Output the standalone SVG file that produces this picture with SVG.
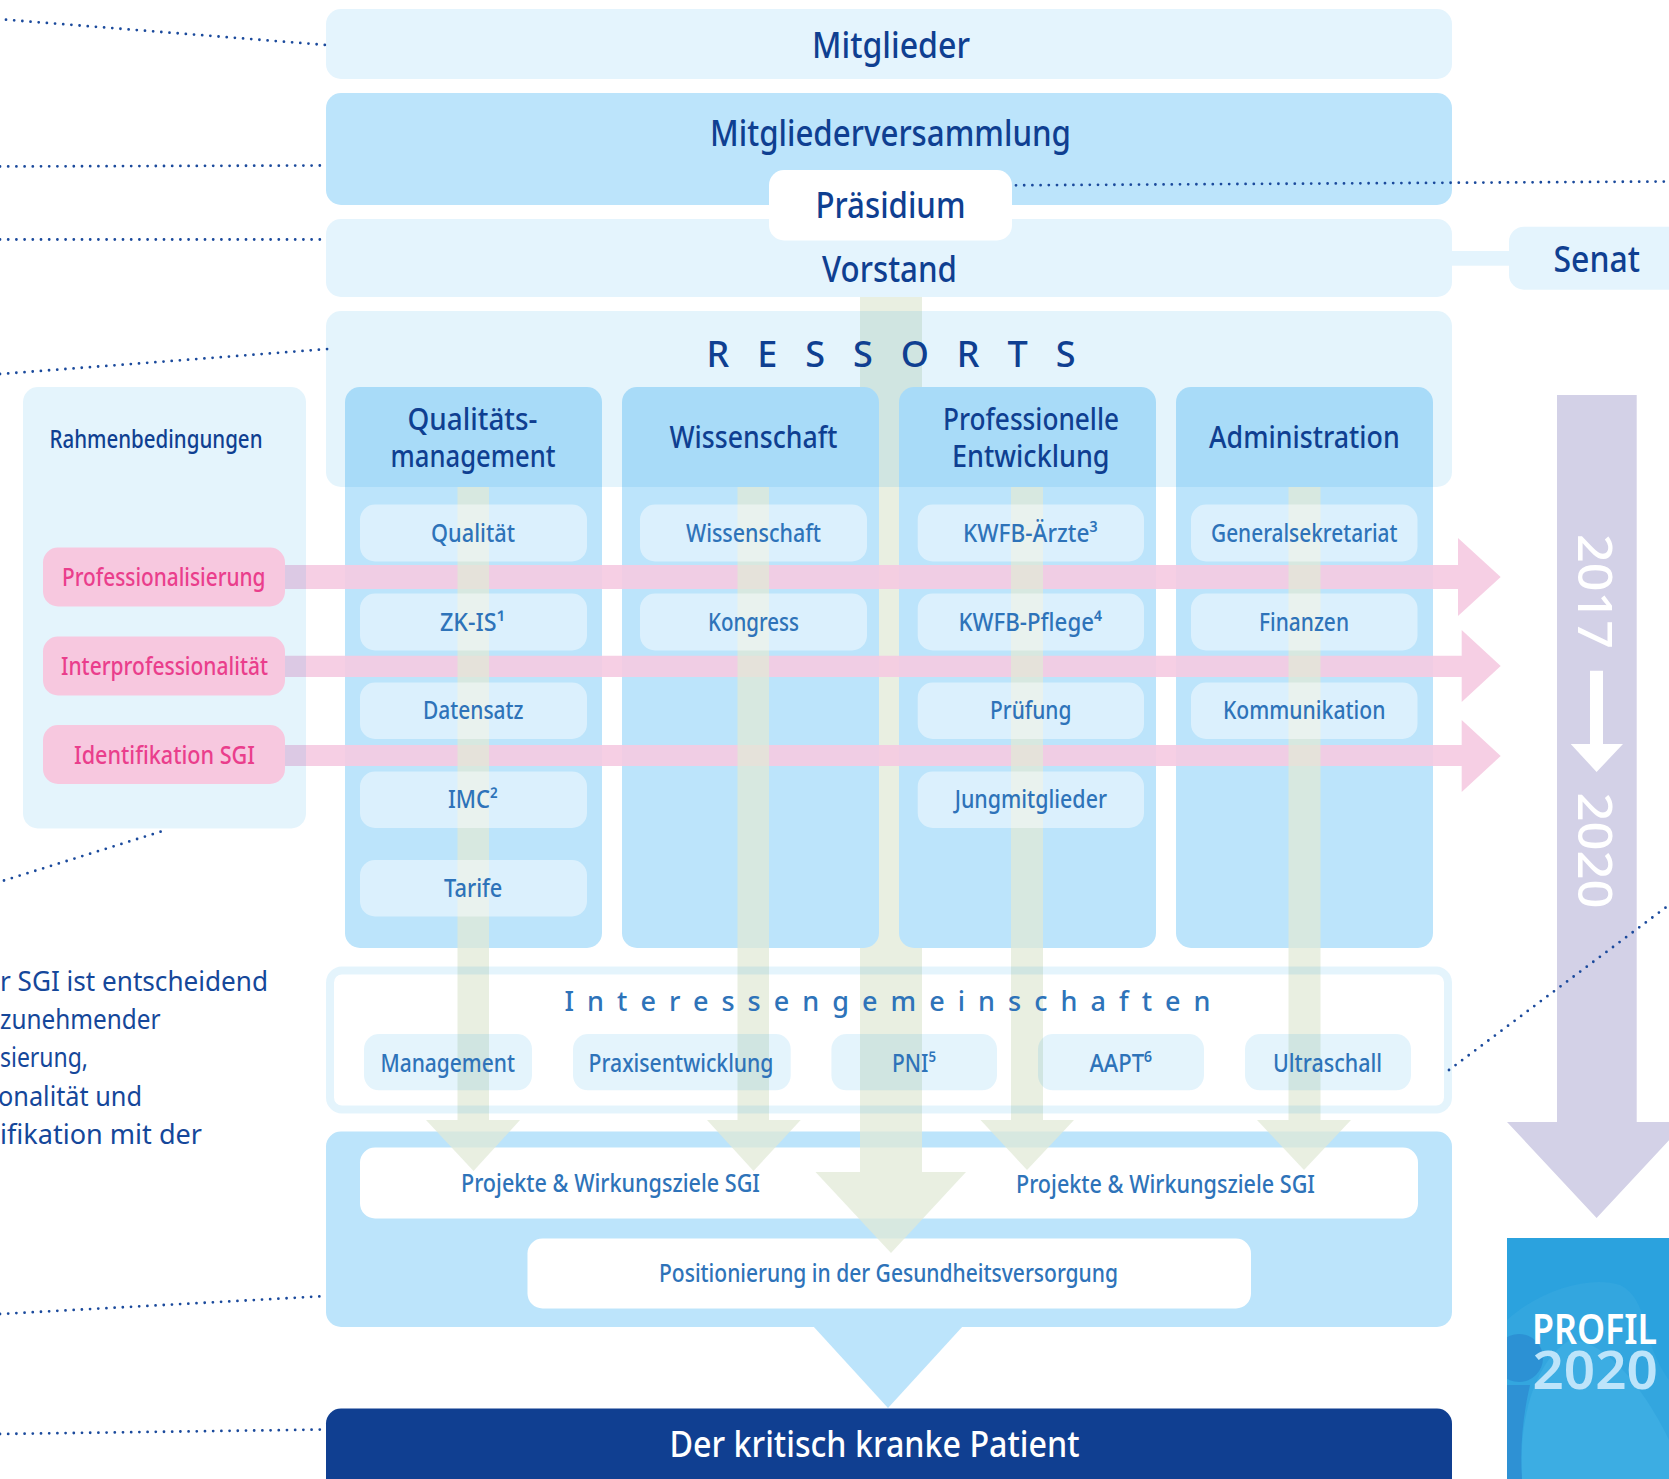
<svg xmlns="http://www.w3.org/2000/svg" width="1669" height="1479" viewBox="0 0 1669 1479">
<style>
text{font-family:"Noto Sans","Open Sans","Liberation Sans",sans-serif}
.pale{fill:#e4f4fd}.sky{fill:#bce4fb}.wh{fill:#fff}
.over{fill:#159ce8;fill-opacity:.115}
.sub{fill:#fff;fill-opacity:.46}
.green{fill:#e1e9d6;fill-opacity:.73}
.pink{fill:#f5cae1;fill-opacity:.9}
.pinkbox{fill:#f7c8df}
.t1{font-size:36px;font-weight:500;fill:#0f3f91}
.t2{font-size:31px;font-weight:500;fill:#0f3f91}
.t3{font-size:24.5px;fill:#2e73b9;font-weight:500}
.t4{font-size:25px;font-weight:500;fill:#0f3f91}
.t5{font-size:25px;fill:#ea3e8c;font-weight:500}
.body{font-size:28px;fill:#15479a}
.dots{fill:none;stroke:#1b4a9c;stroke-width:2.8;stroke-linecap:round;stroke-dasharray:0 8.2}
</style>
<defs><clipPath id="pc"><rect x="1507" y="1238" width="162" height="241"/></clipPath></defs>

<g id="mitglieder"><rect class="pale" x="326" y="9" width="1126" height="70" rx="15"/><text class="t1" x="812" y="58" textLength="158" lengthAdjust="spacingAndGlyphs">Mitglieder</text></g>
<g id="mitgliederversammlung"><rect class="sky" x="326" y="93" width="1126" height="112" rx="15"/><text class="t1" x="710" y="146" textLength="361" lengthAdjust="spacingAndGlyphs">Mitgliederversammlung</text></g>
<g id="vorstand"><rect class="pale" x="326" y="219" width="1126" height="78" rx="15"/><text class="t1" x="822" y="281.700" textLength="135" lengthAdjust="spacingAndGlyphs">Vorstand</text></g>
<g id="praesidium"><rect class="wh" x="769" y="170" width="243" height="70.500" rx="15"/><text class="t1" x="815.500" y="217.700" textLength="150" lengthAdjust="spacingAndGlyphs">Präsidium</text></g>
<g id="senat"><rect class="pale" x="1450" y="251" width="62" height="14.700"/><rect class="pale" x="1509" y="226.700" width="200" height="63" rx="15"/><text class="t1" x="1553.500" y="271.700" textLength="86.500" lengthAdjust="spacingAndGlyphs">Senat</text></g>

<g id="wirkung"><rect class="sky" x="326" y="1131.500" width="1126" height="195.500" rx="15"/><polygon class="sky" points="813,1326 963,1326 888,1408"/>
<rect class="wh" x="360" y="1147.500" width="1058" height="71" rx="15"/><rect class="wh" x="527.500" y="1238.500" width="723.500" height="70" rx="15"/>
<text class="t3" x="461" y="1192" textLength="299" lengthAdjust="spacingAndGlyphs">Projekte &amp; Wirkungsziele SGI</text>
<text class="t3" x="1016" y="1193.300" textLength="299" lengthAdjust="spacingAndGlyphs">Projekte &amp; Wirkungsziele SGI</text>
<text class="t3" x="659" y="1282" textLength="459" lengthAdjust="spacingAndGlyphs">Positionierung in der Gesundheitsversorgung</text></g>
<g id="patient"><rect x="326" y="1408.500" width="1126" height="90" rx="15" fill="#103f91"/><text class="t1" style="fill:#fff" x="669.500" y="1457" textLength="410" lengthAdjust="spacingAndGlyphs">Der kritisch kranke Patient</text></g>

<g id="connector-vorstand-flow"><polygon class="green" points="860,297 922,297 922,1172 966,1172 891,1253 815.500,1172 860,1172"/></g>

<g id="ressorts"><rect class="over" x="326" y="311" width="1126" height="176" rx="15"/><text class="t1" x="706.500" y="367" textLength="369" lengthAdjust="spacing">RESSORTS</text></g>

<g id="spalte-qualitaet"><path class="sky" d="M345 487H602V933a15 15 0 0 1-15 15H360a15 15 0 0 1-15-15Z"/><path fill="#a8dbf8" d="M345 487V402a15 15 0 0 1 15-15H587a15 15 0 0 1 15 15V487Z"/>
<text class="t2" x="407.500" y="430" textLength="130" lengthAdjust="spacingAndGlyphs">Qualitäts-</text><text class="t2" x="390.600" y="466.700" textLength="165" lengthAdjust="spacingAndGlyphs">management</text></g>
<g id="spalte-wissenschaft"><path class="sky" d="M622 487H879V933a15 15 0 0 1-15 15H637a15 15 0 0 1-15-15Z"/><path fill="#a8dbf8" d="M622 487V402a15 15 0 0 1 15-15H864a15 15 0 0 1 15 15V487Z"/>
<text class="t2" x="669.500" y="448" textLength="168" lengthAdjust="spacingAndGlyphs">Wissenschaft</text></g>
<g id="spalte-professionelle"><path class="sky" d="M899 487H1156V933a15 15 0 0 1-15 15H914a15 15 0 0 1-15-15Z"/><path fill="#a8dbf8" d="M899 487V402a15 15 0 0 1 15-15H1141a15 15 0 0 1 15 15V487Z"/>
<text class="t2" x="943" y="430" textLength="176" lengthAdjust="spacingAndGlyphs">Professionelle</text><text class="t2" x="952" y="466.700" textLength="157.600" lengthAdjust="spacingAndGlyphs">Entwicklung</text></g>
<g id="spalte-administration"><path class="sky" d="M1176 487H1433V933a15 15 0 0 1-15 15H1191a15 15 0 0 1-15-15Z"/><path fill="#a8dbf8" d="M1176 487V402a15 15 0 0 1 15-15H1418a15 15 0 0 1 15 15V487Z"/>
<text class="t2" x="1209" y="448" textLength="190.700" lengthAdjust="spacingAndGlyphs">Administration</text></g>

<g id="connectors-querschnitt">
<polygon class="pink" points="285,565 1458,565 1458,538 1500.700,577 1458,616 1458,589 285,589"/>
<polygon class="pink" points="285,655.700 1461.700,655.700 1461.700,630 1500.700,666 1461.700,702 1461.700,677 285,677"/>
<polygon class="pink" points="285,745 1461.700,745 1461.700,720 1500.700,756 1461.700,792 1461.700,766 285,766"/>
</g>

<g id="rahmenbedingungen"><rect class="over" x="23" y="387" width="283" height="441.500" rx="15"/><text class="t4" x="49.500" y="448.400" textLength="213" lengthAdjust="spacingAndGlyphs">Rahmenbedingungen</text></g>
<g id="professionalisierung"><rect class="pinkbox" x="43" y="547.500" width="242" height="59" rx="15"/><text class="t5" x="62" y="585.500" textLength="203.500" lengthAdjust="spacingAndGlyphs">Professionalisierung</text></g>
<g id="interprofessionalitaet"><rect class="pinkbox" x="43" y="636.500" width="242" height="59" rx="15"/><text class="t5" x="61" y="675" textLength="207" lengthAdjust="spacingAndGlyphs">Interprofessionalität</text></g>
<g id="identifikation"><rect class="pinkbox" x="43" y="725" width="242" height="59" rx="15"/><text class="t5" x="74" y="763.500" textLength="181" lengthAdjust="spacingAndGlyphs">Identifikation SGI</text></g>

<g id="connectors-ressorts">
<polygon class="green" points="457.500,487 489,487 489,1120 520,1120 473.500,1171 426,1120 457.500,1120"/>
<polygon class="green" points="737.500,487 769,487 769,1120 800.700,1120 753.500,1171 707,1120 737.500,1120"/>
<polygon class="green" points="1011,487 1043,487 1043,1120 1074,1120 1027,1170 980.500,1120 1011,1120"/>
<polygon class="green" points="1288.500,487 1320.500,487 1320.500,1120 1351,1120 1304,1170 1257,1120 1288.500,1120"/>
</g>

<g id="b-qualitaet"><rect class="sub" x="360" y="504.500" width="227" height="57" rx="15"/><text class="t3" x="431" y="541.500" textLength="84" lengthAdjust="spacingAndGlyphs">Qualität</text></g>
<g id="b-zkis"><rect class="sub" x="360" y="593.500" width="227" height="57" rx="15"/><text class="t3" x="440" y="630.500" textLength="65" lengthAdjust="spacingAndGlyphs">ZK-IS¹</text></g>
<g id="b-datensatz"><rect class="sub" x="360" y="682.500" width="227" height="56.500" rx="15"/><text class="t3" x="423" y="719.300" textLength="100.500" lengthAdjust="spacingAndGlyphs">Datensatz</text></g>
<g id="b-imc"><rect class="sub" x="360" y="771.500" width="227" height="56.500" rx="15"/><text class="t3" x="448" y="808.300" textLength="50" lengthAdjust="spacingAndGlyphs">IMC²</text></g>
<g id="b-tarife"><rect class="sub" x="360" y="860" width="227" height="56.500" rx="15"/><text class="t3" x="444" y="897.300" textLength="58.400" lengthAdjust="spacingAndGlyphs">Tarife</text></g>
<g id="b-wissenschaft"><rect class="sub" x="640" y="504.500" width="227" height="57" rx="15"/><text class="t3" x="686" y="541.500" textLength="135" lengthAdjust="spacingAndGlyphs">Wissenschaft</text></g>
<g id="b-kongress"><rect class="sub" x="640" y="593.500" width="227" height="57" rx="15"/><text class="t3" x="708" y="630.500" textLength="91" lengthAdjust="spacingAndGlyphs">Kongress</text></g>
<g id="b-aerzte"><rect class="sub" x="917.700" y="504.500" width="226.300" height="57" rx="15"/><text class="t3" x="963" y="541.500" textLength="134.500" lengthAdjust="spacingAndGlyphs">KWFB-Ärzte³</text></g>
<g id="b-pflege"><rect class="sub" x="917.700" y="593.500" width="226.300" height="57" rx="15"/><text class="t3" x="958.500" y="630.500" textLength="143.500" lengthAdjust="spacingAndGlyphs">KWFB-Pflege⁴</text></g>
<g id="b-pruefung"><rect class="sub" x="917.700" y="682.500" width="226.300" height="56.500" rx="15"/><text class="t3" x="990" y="719.300" textLength="81.500" lengthAdjust="spacingAndGlyphs">Prüfung</text></g>
<g id="b-jung"><rect class="sub" x="917.700" y="771.500" width="226.300" height="56.500" rx="15"/><text class="t3" x="954.700" y="808.300" textLength="152.300" lengthAdjust="spacingAndGlyphs">Jungmitglieder</text></g>
<g id="b-general"><rect class="sub" x="1191" y="504.500" width="226.500" height="57" rx="15"/><text class="t3" x="1211" y="541.500" textLength="186.500" lengthAdjust="spacingAndGlyphs">Generalsekretariat</text></g>
<g id="b-finanzen"><rect class="sub" x="1191" y="593.500" width="226.500" height="57" rx="15"/><text class="t3" x="1259" y="630.500" textLength="90" lengthAdjust="spacingAndGlyphs">Finanzen</text></g>
<g id="b-kommunikation"><rect class="sub" x="1191" y="682.500" width="226.500" height="56.500" rx="15"/><text class="t3" x="1223" y="719.300" textLength="162.500" lengthAdjust="spacingAndGlyphs">Kommunikation</text></g>

<g id="interessengemeinschaften"><rect x="330" y="970.500" width="1118" height="139" rx="12" fill="none" stroke="#159ce8" stroke-opacity=".115" stroke-width="8"/>
<text style="font-size:27px;fill:#2e73b9;font-weight:500" x="564.500" y="1010.500" textLength="646" lengthAdjust="spacing">Interessengemeinschaften</text></g>
<g id="ig-management"><rect class="over" x="364" y="1034" width="168" height="56.300" rx="15"/><text class="t3" x="380.400" y="1071.500" textLength="134.600" lengthAdjust="spacingAndGlyphs">Management</text></g>
<g id="ig-praxis"><rect class="over" x="573" y="1034" width="217.700" height="56.300" rx="15"/><text class="t3" x="588.600" y="1071.500" textLength="184.900" lengthAdjust="spacingAndGlyphs">Praxisentwicklung</text></g>
<g id="ig-pni"><rect class="over" x="831.400" y="1034" width="165.600" height="56.300" rx="15"/><text class="t3" x="892" y="1071.500" textLength="44" lengthAdjust="spacingAndGlyphs">PNI⁵</text></g>
<g id="ig-aapt"><rect class="over" x="1038" y="1034" width="166" height="56.300" rx="15"/><text class="t3" x="1089.400" y="1071.500" textLength="62.600" lengthAdjust="spacingAndGlyphs">AAPT⁶</text></g>
<g id="ig-ultraschall"><rect class="over" x="1245" y="1034" width="166" height="56.300" rx="15"/><text class="t3" x="1273" y="1071.500" textLength="109" lengthAdjust="spacingAndGlyphs">Ultraschall</text></g>

<g id="zeitachse"><polygon fill="#d3d1e7" points="1557,395 1636.700,395 1636.700,1122 1686,1122 1596.600,1218 1507,1122 1557,1122"/>
<text transform="translate(1578,534) rotate(90)" style="font-size:48px;font-weight:500;fill:#fff" textLength="115" lengthAdjust="spacingAndGlyphs">2017</text>
<text transform="translate(1578,792.500) rotate(90)" style="font-size:48px;font-weight:500;fill:#fff" textLength="116" lengthAdjust="spacingAndGlyphs">2020</text>
<polygon fill="#fff" points="1590,670.700 1603,670.700 1603,744 1623,744 1596.600,772 1570.700,744 1590,744"/></g>

<g id="profil"><g clip-path="url(#pc)"><rect x="1507" y="1237.500" width="162" height="242" fill="#2ba2de"/>
<path fill="#33a6df" d="M1507 1320C1540 1290 1590 1275 1620 1285C1650 1300 1640 1340 1669 1380V1479H1507Z"/>
<path fill="#3cade3" d="M1522 1479C1518 1420 1535 1360 1570 1340C1610 1340 1650 1400 1669 1440V1479Z"/>
<path fill="#2e91d4" d="M1507 1385H1530C1522 1420 1520 1450 1522 1479H1507Z"/>
<circle cx="1519" cy="1358" r="24" fill="#2c91d4"/></g>
<text x="1532" y="1344" style="font-size:41px;font-weight:600;fill:#fff" textLength="125" lengthAdjust="spacingAndGlyphs">PROFIL</text>
<text x="1532.500" y="1388.700" style="font-size:52px;font-weight:600;fill:#bde4fa" textLength="125.500" lengthAdjust="spacingAndGlyphs">2020</text></g>

<g id="erlaeuterung">
<text class="body" x="0" y="990.700" textLength="268" lengthAdjust="spacingAndGlyphs">r SGI ist entscheidend</text>
<text class="body" x="0" y="1029" textLength="160.500" lengthAdjust="spacingAndGlyphs">zunehmender</text>
<text class="body" x="0" y="1067.300" textLength="88" lengthAdjust="spacingAndGlyphs">sierung,</text>
<text class="body" x="-2" y="1105.700" textLength="144" lengthAdjust="spacingAndGlyphs">onalität und</text>
<text class="body" x="0" y="1144" textLength="202" lengthAdjust="spacingAndGlyphs">ifikation mit der</text>
</g>

<g id="connectors">
<line class="dots" x1="6" y1="19.700" x2="326" y2="45"/>
<line class="dots" x1="0" y1="166.500" x2="327" y2="165.500"/>
<line class="dots" x1="0" y1="239.500" x2="327" y2="239.500"/>
<line class="dots" x1="0" y1="374" x2="328" y2="349"/>
<line class="dots" x1="4" y1="880.500" x2="166" y2="830"/>
<line class="dots" x1="0" y1="1314" x2="327" y2="1296"/>
<line class="dots" x1="0" y1="1434" x2="327" y2="1429.500"/>
<line class="dots" x1="1016" y1="185.300" x2="1669" y2="181.500"/>
<line class="dots" x1="1449" y1="1070" x2="1669" y2="905"/>
</g>
</svg>
